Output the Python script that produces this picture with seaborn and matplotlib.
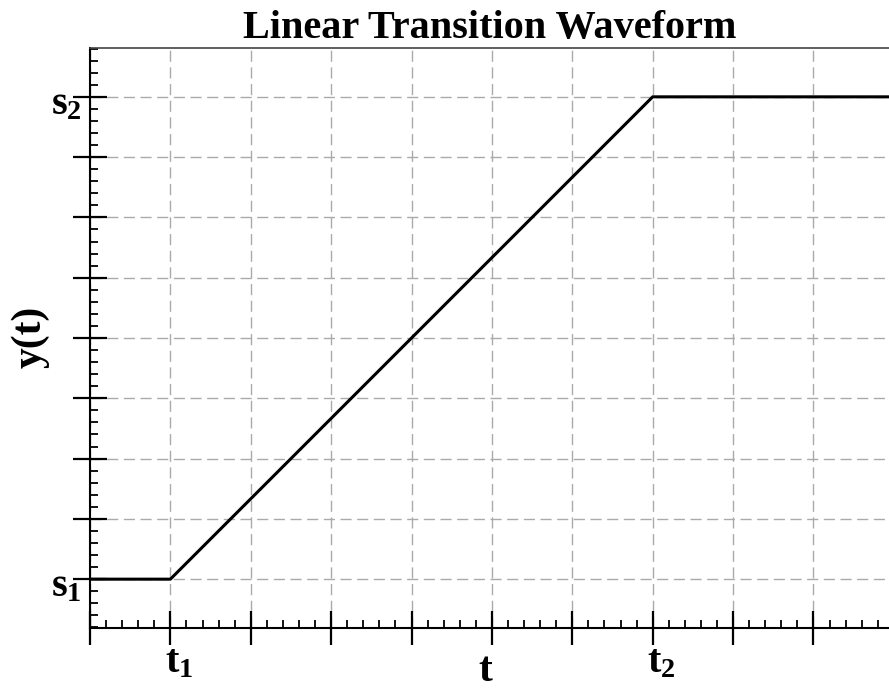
import numpy as np
import pandas as pd
import matplotlib
matplotlib.use("Agg")
import matplotlib.pyplot as plt
import matplotlib.transforms as mtransforms
import seaborn as sns
from matplotlib.ticker import AutoMinorLocator

# Waveform data (time in grid units, level in grid units)
t_values = [0, 1, 7, 10]
y_values = [0, 0, 8, 8]

# Tick labels for the named points
x_tick_pos = [0, 1, 2, 3, 4, 5, 6, 7, 8, 9]
x_tick_labels = ["", r"$\mathbf{t_1}$", "", "", "", "", "", r"$\mathbf{t_2}$", "", ""]
y_tick_pos = [0, 1, 2, 3, 4, 5, 6, 7, 8]
y_tick_labels = [r"$\mathbf{s_1}$", "", "", "", "", "", "", "", r"$\mathbf{s_2}$"]

sns.set_theme(style="ticks")
plt.rcParams["font.family"] = ["Liberation Serif", "DejaVu Serif"]
plt.rcParams["font.weight"] = "bold"
plt.rcParams["mathtext.fontset"] = "custom"
plt.rcParams["mathtext.bf"] = "Liberation Serif:bold"
plt.rcParams["mathtext.rm"] = "Liberation Serif:bold"
plt.rcParams["text.color"] = "black"
plt.rcParams["axes.labelcolor"] = "black"
plt.rcParams["xtick.color"] = "black"
plt.rcParams["ytick.color"] = "black"

df = pd.DataFrame({"t": t_values, "y": y_values})

fig = plt.figure(figsize=(8.89, 6.92), dpi=100)
ax = fig.add_axes([90 / 889, 64 / 692, 799 / 889, 580 / 692])

sns.lineplot(data=df, x="t", y="y", sort=False, color="black", linewidth=2.2, ax=ax, zorder=3)

ax.set_xlim(0, 9.94)
ax.set_ylim(-0.81, 8.81)

ax.set_xticks(x_tick_pos)
ax.set_xticklabels(x_tick_labels)
ax.set_yticks(y_tick_pos)
ax.set_yticklabels(y_tick_labels)
ax.xaxis.set_minor_locator(AutoMinorLocator(5))
ax.yaxis.set_minor_locator(AutoMinorLocator(5))

ax.tick_params(which="major", direction="inout", length=24, width=1.6, color="black",
               labelsize=29, pad=0)
ax.tick_params(axis="y", which="major", pad=-6)
ax.tick_params(which="minor", direction="in", length=6, width=1.3, color="black")

# the letter sits on the tick, the subscript hangs to the right / below
xshift = mtransforms.ScaledTranslation(9 / 100, 0, fig.dpi_scale_trans)
for lbl in ax.get_xticklabels():
    lbl.set_transform(lbl.get_transform() + xshift)
yshift = mtransforms.ScaledTranslation(0, -3 / 100, fig.dpi_scale_trans)
for lbl in ax.get_yticklabels():
    lbl.set_transform(lbl.get_transform() + yshift)

ax.grid(True, which="major", linestyle=(0, (8, 4)), color="#aaaaaa", linewidth=1.0)
ax.set_axisbelow(True)

for side in ["left", "bottom"]:
    ax.spines[side].set_color("black")
    ax.spines[side].set_linewidth(1.5)
ax.spines["top"].set_color("#444444")
ax.spines["top"].set_linewidth(1.2)
ax.spines["right"].set_visible(False)

ax.set_title("Linear Transition Waveform", fontsize=29, fontweight="bold", pad=7)
ax.set_xlabel("t", fontsize=30, fontweight="bold")
ax.set_ylabel("y(t)", fontsize=30, fontweight="bold")
ax.xaxis.set_label_coords((485 - 90) / 799, (628 - 652) / 580)
ax.yaxis.set_label_coords((50 - 90) / 799, (628 - 337) / 580)

fig.savefig("out.png", dpi=100)
